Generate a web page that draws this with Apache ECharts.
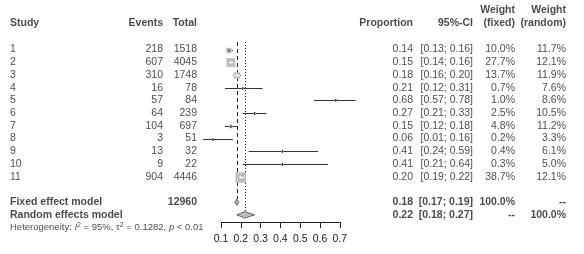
<!DOCTYPE html>
<html>
<head>
<meta charset="utf-8">
<script src="https://cdn.jsdelivr.net/npm/echarts@6/dist/echarts.min.js"></script>
<style>
  html, body { margin: 0; padding: 0; background: #fff; }
  #chart { width: 584px; height: 254px; }
</style>
</head>
<body>
<div id="chart"></div>
<script>
// study level data
const studies = ["1", "2", "3", "4", "5", "6", "7", "8", "9", "10", "11"];
const events = [218, 607, 310, 16, 57, 64, 104, 3, 13, 9, 904];
const totals = [1518, 4045, 1748, 78, 84, 239, 697, 51, 32, 22, 4446];
const proportion = [0.14, 0.15, 0.18, 0.21, 0.68, 0.27, 0.15, 0.06, 0.41, 0.41, 0.20];
const ciLower = [0.13, 0.14, 0.16, 0.12, 0.57, 0.21, 0.12, 0.01, 0.24, 0.21, 0.19];
const ciUpper = [0.16, 0.16, 0.20, 0.31, 0.78, 0.33, 0.18, 0.16, 0.59, 0.64, 0.22];
const weightFixed = [10.0, 27.7, 13.7, 0.7, 1.0, 2.5, 4.8, 0.2, 0.4, 0.3, 38.7];
const weightRandom = [11.7, 12.1, 11.9, 7.6, 8.6, 10.5, 11.2, 3.3, 6.1, 5.0, 12.1];

// pooled models
const modelNames = ["Fixed effect model", "Random effects model"];
const modelEst = [0.18, 0.22];
const modelLower = [0.17, 0.18];
const modelUpper = [0.19, 0.27];
const modelWFixed = ["100.0%", "--"];
const modelWRandom = ["--", "100.0%"];
const totalN = 12960;

// heterogeneity
const hetI2 = "95%";
const hetTau2 = "0.1282";
const hetP = "< 0.01";

// x axis ticks
const tickValues = [0.1, 0.2, 0.3, 0.4, 0.5, 0.6, 0.7];

const FONT = "'Liberation Sans', Arial, sans-serif";
const FS = 10.5;
const ROW_MIN = -2.8, ROW_MAX = 16;
const GRID_TOP = 1.2, GRID_H = 239.1;

// column anchors (px) and alignment
const col = {
  study: 10, events: 163, total: 197,
  prop: 413, ci: 473, wf: 515, wr: 566
};

function txt(x, row, text, align, bold, size) {
  return {
    value: [x, row],
    label: {
      show: true,
      position: "inside",
      align: align,
      verticalAlign: "middle",
      formatter: text,
      fontFamily: FONT,
      fontSize: size || FS,
      fontWeight: bold ? "bold" : "normal",
      color: "#1a1a1a"
    }
  };
}

const f2 = v => v.toFixed(2);
const ciText = (lo, hi) => "[" + f2(lo) + "; " + f2(hi) + "]";

let texts = [];
// headers
texts.push(txt(col.study, -1.05, "Study", "left", true));
texts.push(txt(col.events, -1.05, "Events", "right", true));
texts.push(txt(col.total, -1.05, "Total", "right", true));
texts.push(txt(col.prop, -1.05, "Proportion", "right", true));
texts.push(txt(col.ci, -1.05, "95%-CI", "right", true));
texts.push(txt(col.wf, -2.1, "Weight", "right", true));
texts.push(txt(col.wf, -1.05, "(fixed)", "right", true));
texts.push(txt(col.wr, -2.1, "Weight", "right", true));
texts.push(txt(col.wr, -1.05, "(random)", "right", true));

studies.forEach((s, i) => {
  const r = i + 1;
  texts.push(txt(col.study, r, s, "left"));
  texts.push(txt(col.events, r, String(events[i]), "right"));
  texts.push(txt(col.total, r, String(totals[i]), "right"));
  texts.push(txt(col.prop, r, f2(proportion[i]), "right"));
  texts.push(txt(col.ci, r, ciText(ciLower[i], ciUpper[i]), "right"));
  texts.push(txt(col.wf, r, weightFixed[i].toFixed(1) + "%", "right"));
  texts.push(txt(col.wr, r, weightRandom[i].toFixed(1) + "%", "right"));
});

modelNames.forEach((m, i) => {
  const r = 13 + i;
  texts.push(txt(col.study, r, m, "left", true));
  if (i === 0) texts.push(txt(col.total, r, String(totalN), "right", true));
  texts.push(txt(col.prop, r, f2(modelEst[i]), "right", true));
  texts.push(txt(col.ci, r, ciText(modelLower[i], modelUpper[i]), "right", true));
  texts.push(txt(col.wf, r, modelWFixed[i], "right", true));
  texts.push(txt(col.wr, r, modelWRandom[i], "right", true));
});

// heterogeneity line with rich text
const het = txt(col.study, 15, "Heterogeneity: {i|I}{sup|2} = " + hetI2 + ", \u03c4{sup|2} = " + hetTau2 + ", {i|p} " + hetP, "left", false, 9.5);
het.label.rich = {
  i: { fontFamily: FONT, fontSize: 9.5, fontStyle: "italic", color: "#1a1a1a" },
  sup: { fontFamily: FONT, fontSize: 7, color: "#1a1a1a", verticalAlign: "top", padding: [0, 0, 5, 0] }
};
texts.push(het);

// forest plot marks
const studyMarks = studies.map((s, i) => [proportion[i], ciLower[i], ciUpper[i], weightFixed[i], i + 1]);
const diamondMarks = modelNames.map((m, i) => [modelEst[i], modelLower[i], modelUpper[i], 13 + i]);
const refLines = modelEst.map((v, i) => [v, i]);

function renderStudy(params, api) {
  const row = api.value(4);
  const pEst = api.coord([api.value(0), row]);
  const pLo = api.coord([api.value(1), row]);
  const pHi = api.coord([api.value(2), row]);
  const s = Math.max(2, 1.7 * Math.sqrt(api.value(3)));
  const y = Math.round(pEst[1]) + 0.5;
  const children = [
    { type: "line", shape: { x1: pLo[0], y1: y, x2: pHi[0], y2: y }, style: { stroke: "#333", lineWidth: 1 } },
    { type: "rect", shape: { x: pEst[0] - s / 2, y: y - s / 2, width: s, height: s }, style: { fill: "#bebebe" } }
  ];
  const inner = s >= 6;
  if (inner) {
    const a = Math.max(pLo[0], pEst[0] - s / 2);
    const b = Math.min(pHi[0], pEst[0] + s / 2);
    children.push({ type: "line", shape: { x1: a, y1: y, x2: b, y2: y }, style: { stroke: "#fff", lineWidth: 1 } });
  }
  children.push({
    type: "line",
    shape: { x1: pEst[0], y1: y - 1.5, x2: pEst[0], y2: y + 1.5 },
    style: { stroke: inner ? "#fff" : "#222", lineWidth: 1 }
  });
  return { type: "group", children: children };
}

function renderDiamond(params, api) {
  const row = api.value(3);
  const pEst = api.coord([api.value(0), row]);
  const pLo = api.coord([api.value(1), row]);
  const pHi = api.coord([api.value(2), row]);
  const h = 3.2;
  return {
    type: "polygon",
    shape: { points: [[pLo[0], pEst[1]], [pEst[0], pEst[1] - h], [pHi[0], pEst[1]], [pEst[0], pEst[1] + h]] },
    style: { fill: "#bebebe", stroke: "#444", lineWidth: 0.8 }
  };
}

function renderRef(params, api) {
  const which = api.value(1);
  const endRow = which === 0 ? 12.75 : 13.7;
  const p1 = api.coord([api.value(0), 0.41]);
  const p2 = api.coord([api.value(0), endRow]);
  const x = Math.round(p1[0]) + 0.5;
  return {
    type: "line",
    shape: { x1: x, y1: p1[1], x2: x, y2: p2[1] },
    style: { stroke: "#222", lineWidth: 1, lineDash: which === 0 ? [4, 3] : [1, 2] }
  };
}

const chart = echarts.init(document.getElementById("chart"));
chart.setOption({
  animation: false,
  backgroundColor: "#fff",
  grid: [
    { left: 201.2, width: 158.4, top: GRID_TOP, height: GRID_H },
    { left: 0, width: 584, top: GRID_TOP, height: GRID_H },
    { left: 221, width: 118.8, top: 221, height: 1 }
  ],
  xAxis: [
    { gridIndex: 0, type: "value", min: 0, max: 0.8, show: false },
    { gridIndex: 1, type: "value", min: 0, max: 584, show: false },
    {
      gridIndex: 2, type: "value",
      min: tickValues[0], max: tickValues[tickValues.length - 1], interval: 0.1,
      axisLine: { lineStyle: { color: "#222", width: 1 } },
      axisTick: { length: 6, lineStyle: { color: "#222" } },
      axisLabel: {
        margin: 12, fontFamily: FONT, fontSize: 10.5, color: "#1a1a1a",
        formatter: v => v.toFixed(1)
      },
      splitLine: { show: false }
    }
  ],
  yAxis: [
    { gridIndex: 0, type: "value", inverse: true, min: ROW_MIN, max: ROW_MAX, show: false },
    { gridIndex: 1, type: "value", inverse: true, min: ROW_MIN, max: ROW_MAX, show: false },
    { gridIndex: 2, type: "value", show: false }
  ],
  series: [
    {
      type: "custom", xAxisIndex: 0, yAxisIndex: 0, clip: false, silent: true,
      renderItem: renderRef, data: refLines, z: 1
    },
    {
      type: "custom", xAxisIndex: 0, yAxisIndex: 0, clip: false, silent: true,
      renderItem: renderStudy, data: studyMarks, z: 2
    },
    {
      type: "custom", xAxisIndex: 0, yAxisIndex: 0, clip: false, silent: true,
      renderItem: renderDiamond, data: diamondMarks, z: 2
    },
    {
      type: "scatter", xAxisIndex: 1, yAxisIndex: 1, silent: true,
      symbolSize: 1, itemStyle: { color: "rgba(0,0,0,0)" },
      data: texts, z: 3
    }
  ]
});
</script>
</body>
</html>
